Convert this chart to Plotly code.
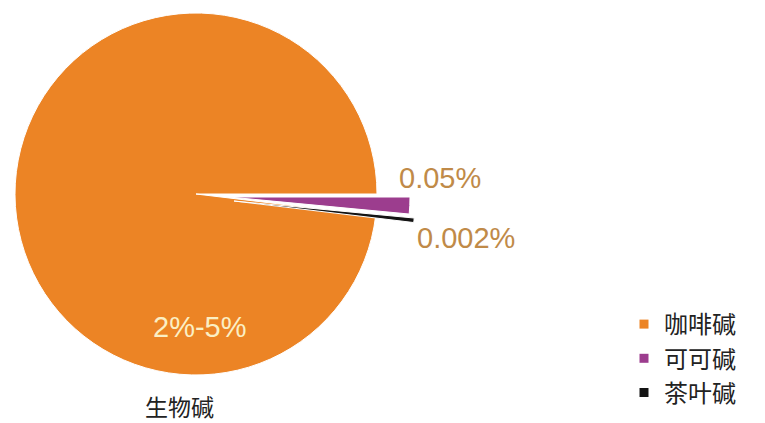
import plotly.graph_objects as go

# ---- data ----
labels = ["咖啡碱", "可可碱", "茶叶碱"]
shares = [98.1, 1.5, 0.4]          # visual angular share of each slice (%)
value_labels = ["2%-5%", "0.05%", "0.002%"]
colors = ["#EC8425", "#9C3D8E", "#141414"]
caption = "生物碱"

# ---- layout helpers (pixels) ----
W, H = 765, 423
R = 181
centers = [(196, 194), (229, 197), (234, 201)]  # pie centre; apexes of pulled slices
label_pos = [(200, 327), (440, 178), (466, 238)]
label_colors = ["#FBEFC4", "#C08A48", "#C08A48"]


def dom(cx, cy):
    return dict(x=[(cx - R) / W, (cx + R) / W],
                y=[1 - (cy + R) / H, 1 - (cy - R) / H])


rotation = 90 + 360 * sum(shares[1:]) / sum(shares)

fig = go.Figure()
for i, (cx, cy) in enumerate(centers):
    cols = [c if j == i else "rgba(0,0,0,0)" for j, c in enumerate(colors)]
    lw = [1 if j == i else 0 for j in range(len(colors))]
    fig.add_trace(go.Pie(
        labels=labels, values=shares, sort=False, direction="clockwise",
        rotation=rotation, domain=dom(cx, cy),
        marker=dict(colors=cols, line=dict(color="white", width=lw)),
        textinfo="none", showlegend=False, hoverinfo="skip",
    ))

for lab, col in zip(labels, colors):
    fig.add_trace(go.Scatter(
        x=[None], y=[None], mode="markers", name=lab,
        marker=dict(symbol="square", size=9, color=col),
    ))

annotations = []
for txt, (px, py), c in zip(value_labels, label_pos, label_colors):
    annotations.append(dict(
        text=txt, x=px / W, y=1 - py / H, xref="paper", yref="paper",
        xanchor="center", yanchor="middle", showarrow=False,
        font=dict(family="Liberation Sans, Arial", size=29, color=c),
    ))
annotations.append(dict(
    text=caption, x=179 / W, y=1 - 406 / H, xref="paper", yref="paper",
    xanchor="center", yanchor="middle", showarrow=False,
    font=dict(family="Noto Sans CJK SC", size=23, color="#222222"),
))

fig.update_layout(
    width=W, height=H,
    margin=dict(l=0, r=0, t=0, b=0),
    paper_bgcolor="white", plot_bgcolor="white",
    xaxis=dict(visible=False), yaxis=dict(visible=False),
    legend=dict(x=624 / W, y=1 - 302 / H, xanchor="left", yanchor="top",
                font=dict(family="Noto Sans CJK SC", size=24, color="#222222"),
                bgcolor="rgba(0,0,0,0)"),
    annotations=annotations,
)

fig.write_html("out.html")
